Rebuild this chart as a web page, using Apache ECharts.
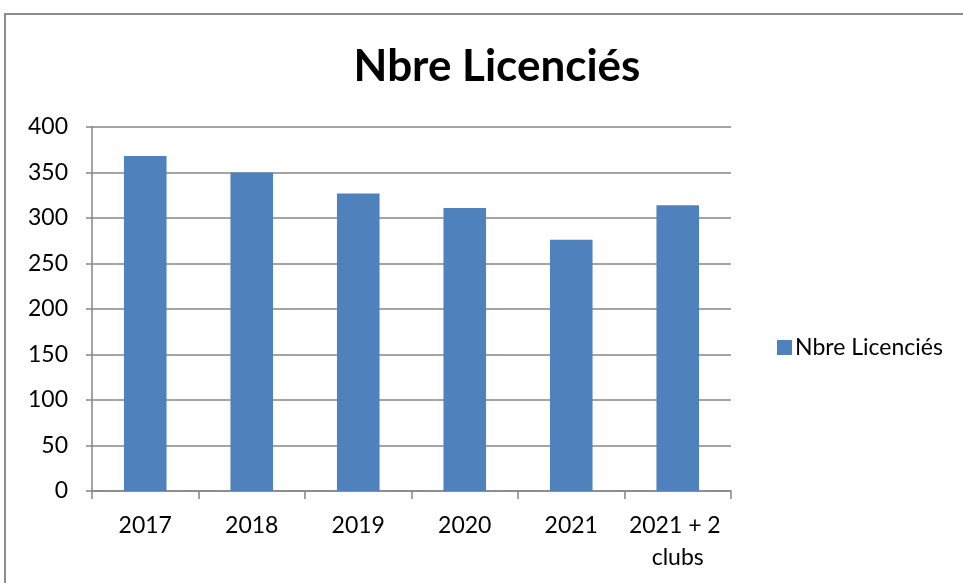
<!DOCTYPE html>
<html>
<head>
<meta charset="utf-8">
<script src="https://cdn.jsdelivr.net/npm/echarts@6/dist/echarts.min.js"></script>
<style>
  html, body { margin: 0; padding: 0; background: #fff; }
  #chart { width: 963px; height: 583px; }
</style>
</head>
<body>
<div id="chart"></div>
<script>
// data
const categories = ["2017", "2018", "2019", "2020", "2021", "2021 + 2 clubs"];
const licencies = [368, 350, 327, 311, 276, 314];
const yTicks = [0, 50, 100, 150, 200, 250, 300, 350, 400];

const chart = echarts.init(document.getElementById("chart"));

const option = {
  animation: false,
  textStyle: { fontFamily: "Lato, 'Open Sans', sans-serif", color: "#000" },
  graphic: [
    {
      type: "rect",
      shape: { x: 5, y: 14, width: 1000, height: 600 },
      style: { fill: "none", stroke: "#8c8c8c", lineWidth: 2 },
      silent: true
    }
  ],
  title: {
    text: "Nbre Licenciés",
    left: 492,
    textAlign: "center",
    top: 40,
    textStyle: { fontSize: 44, fontWeight: "bold", color: "#000", fontFamily: "Lato, sans-serif" }
  },
  legend: {
    left: 772,
    top: 331,
    itemWidth: 15,
    itemHeight: 15,
    icon: "rect",
    itemGap: 5,
    textStyle: { fontSize: 23, color: "#000", padding: [0, 0, 0, -2] },
    data: ["Nbre Licenciés"]
  },
  grid: { left: 92, right: 232, top: 127, bottom: 92 },
  xAxis: {
    type: "category",
    data: categories,
    boundaryGap: true,
    axisLine: { lineStyle: { color: "#868686", width: 1.5 } },
    axisTick: { show: true, length: 8, lineStyle: { color: "#868686", width: 1.5 } },
    axisLabel: {
      fontSize: 23,
      color: "#000",
      margin: 19,
      interval: 0,
      width: 104,
      overflow: "break",
      lineHeight: 32
    }
  },
  yAxis: {
    type: "value",
    min: yTicks[0],
    max: yTicks[yTicks.length - 1],
    interval: yTicks[1] - yTicks[0],
    axisLine: { show: true, lineStyle: { color: "#868686", width: 1.5 } },
    axisTick: { show: true, length: 6, lineStyle: { color: "#868686", width: 1.5 } },
    splitLine: { lineStyle: { color: "#868686", width: 1.5 } },
    axisLabel: { fontSize: 23, color: "#000", margin: 24 }
  },
  series: [
    {
      name: "Nbre Licenciés",
      type: "bar",
      data: licencies,
      barWidth: "40%",
      itemStyle: { color: "#4f81bd" }
    }
  ]
};

chart.setOption(option);
window.addEventListener("resize", () => chart.resize());
</script>
</body>
</html>
